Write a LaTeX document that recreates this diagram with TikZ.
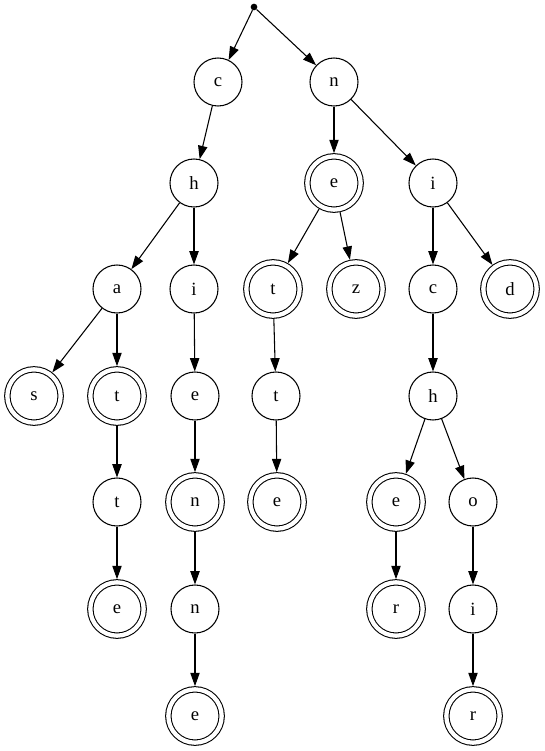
\documentclass[tikz,border=0pt]{standalone}
\usepackage{fontspec}
\setmainfont{Liberation Serif}
\usetikzlibrary{arrows.meta}

\begin{document}
\begin{tikzpicture}[x=0.75pt,y=-0.75pt,
  state/.style={draw,circle,line width=0.8pt,minimum size=36pt,inner sep=0pt,font=\fontsize{14}{16}\selectfont},
  final/.style={state,double,double distance=3.2pt,minimum size=40pt,outer sep=2.4pt},
  edge/.style={->,line width=0.8pt,>={Triangle[length=10pt,width=7pt]}}]
\useasboundingbox (0,0) rectangle (545,751);
\node[circle,fill,inner sep=0pt,minimum size=5pt] (root) at (254,7) {};
% first letters
\node[state] (c) at (218,82) {c};
\node[state] (n) at (334,82) {n};
\node[state] (ch) at (194,183) {h};
\node[final] (ne) at (334,183) {e};
\node[state] (ni) at (433,183) {i};
% third row
\node[state] (cha) at (117,289) {a};
\node[state] (chi) at (194,289) {i};
\node[final] (net) at (273,289) {t};
\node[final] (nez) at (356,289) {z};
\node[state] (nic) at (433,289) {c};
\node[final] (nid) at (510,289) {d};
\node[final] (chas) at (34,396) {s};
\node[final] (chat) at (117,396) {t};
\node[state] (chie) at (195,396) {e};
\node[state] (nett) at (276,396) {t};
\node[state] (nich) at (433,396) {h};
\node[state] (chatt) at (117,502) {t};
\node[final] (chien) at (195,502) {n};
\node[final] (nette) at (277,502) {e};
\node[final] (niche) at (396,502) {e};
\node[state] (nicho) at (473,502) {o};
\node[final] (chatte) at (117,609) {e};
\node[state] (chienn) at (195,609) {n};
\node[final] (nicher) at (396,609) {r};
\node[state] (nichoi) at (473,609) {i};
\node[final] (chienne) at (195,716) {e};
\node[final] (nichoir) at (473,716) {r};
% edges
\draw[edge] (root) -- (c);
\draw[edge] (root) -- (n);
\draw[edge] (c) -- (ch);
\draw[edge] (n) -- (ne);
\draw[edge] (n) -- (ni);
\draw[edge] (ch) -- (cha);
\draw[edge] (ch) -- (chi);
\draw[edge] (ne) -- (net);
\draw[edge] (ne) -- (nez);
\draw[edge] (ni) -- (nic);
\draw[edge] (ni) -- (nid);
\draw[edge] (cha) -- (chas);
\draw[edge] (cha) -- (chat);
\draw[edge] (chi) -- (chie);
\draw[edge] (net) -- (nett);
\draw[edge] (nic) -- (nich);
\draw[edge] (chat) -- (chatt);
\draw[edge] (chie) -- (chien);
\draw[edge] (nett) -- (nette);
\draw[edge] (nich) -- (niche);
\draw[edge] (nich) -- (nicho);
\draw[edge] (chatt) -- (chatte);
\draw[edge] (chien) -- (chienn);
\draw[edge] (niche) -- (nicher);
\draw[edge] (nicho) -- (nichoi);
\draw[edge] (chienn) -- (chienne);
\draw[edge] (nichoi) -- (nichoir);
\end{tikzpicture}
\end{document}
